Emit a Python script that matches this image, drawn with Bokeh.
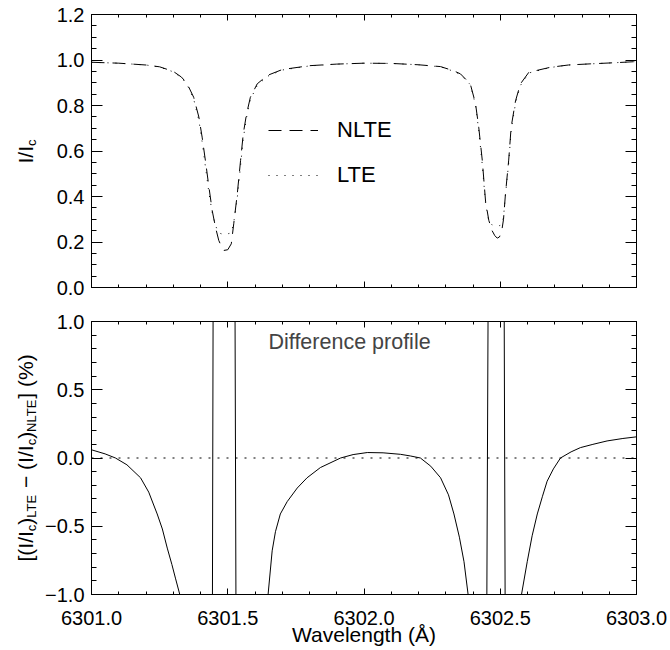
import math
from bokeh.plotting import figure
from bokeh.layouts import column, row
from bokeh.models import (Range1d, LinearAxis, SingleIntervalTicker, CustomJSTickFormatter,
                          Label, Legend, LegendItem, Span)
from bokeh.embed import file_html
from bokeh.resources import INLINE

# ---------------- data ----------------
wavelength = [
    6301.000, 6301.100, 6301.200, 6301.250, 6301.300, 6301.330, 6301.350, 6301.375,
    6301.394, 6301.406, 6301.418, 6301.431, 6301.443, 6301.455, 6301.467, 6301.477,
    6301.486, 6301.500, 6301.513, 6301.522, 6301.535, 6301.547, 6301.557, 6301.569,
    6301.583, 6301.608, 6301.645, 6301.700, 6301.800, 6301.900, 6302.000, 6302.100,
    6302.200, 6302.281, 6302.330, 6302.354, 6302.390, 6302.409, 6302.421, 6302.434,
    6302.446, 6302.458, 6302.470, 6302.480, 6302.489, 6302.497, 6302.505, 6302.512,
    6302.519, 6302.531, 6302.540, 6302.556, 6302.574, 6302.605, 6302.684, 6302.750,
    6302.830, 6302.920, 6303.000]
nlte = [
    0.990, 0.986, 0.978, 0.970, 0.950, 0.925, 0.898, 0.836,
    0.749, 0.661, 0.558, 0.441, 0.338, 0.265, 0.207, 0.180,
    0.163, 0.166, 0.192, 0.280, 0.412, 0.558, 0.676, 0.763,
    0.836, 0.895, 0.932, 0.958, 0.975, 0.982, 0.986, 0.985,
    0.979, 0.971, 0.952, 0.939, 0.895, 0.810, 0.705, 0.560,
    0.380, 0.295, 0.250, 0.228, 0.217, 0.222, 0.245, 0.300,
    0.410, 0.560, 0.705, 0.820, 0.895, 0.946, 0.968, 0.978,
    0.983, 0.988, 0.993]
lte = [
    0.990, 0.986, 0.978, 0.969, 0.948, 0.922, 0.894, 0.828,
    0.735, 0.640, 0.532, 0.415, 0.330, 0.272, 0.240, 0.236,
    0.235, 0.236, 0.240, 0.286, 0.395, 0.535, 0.655, 0.748,
    0.826, 0.888, 0.928, 0.956, 0.974, 0.982, 0.986, 0.985,
    0.979, 0.970, 0.950, 0.936, 0.892, 0.803, 0.692, 0.540,
    0.370, 0.290, 0.275, 0.272, 0.272, 0.272, 0.275, 0.310,
    0.405, 0.548, 0.690, 0.810, 0.888, 0.943, 0.967, 0.978,
    0.983, 0.988, 0.993]

diff_wavelength = [
    6301.000, 6301.050, 6301.088, 6301.130, 6301.180, 6301.210, 6301.241, 6301.260,
    6301.278, 6301.295, 6301.308, 6301.324, 6301.350, 6301.380, 6301.410, 6301.438,
    6301.452, 6301.470, 6301.490, 6301.510, 6301.522, 6301.538, 6301.560, 6301.600,
    6301.630, 6301.648, 6301.663, 6301.675, 6301.693, 6301.718, 6301.755, 6301.791,
    6301.840, 6301.914, 6301.960, 6302.012, 6302.070, 6302.134, 6302.170, 6302.207,
    6302.245, 6302.281, 6302.310, 6302.330, 6302.350, 6302.367, 6302.382, 6302.400,
    6302.420, 6302.440, 6302.466, 6302.480, 6302.495, 6302.508, 6302.526, 6302.550,
    6302.570, 6302.578, 6302.599, 6302.617, 6302.636, 6302.655, 6302.672, 6302.695,
    6302.721, 6302.760, 6302.794, 6302.840, 6302.892, 6302.950, 6303.000]
diff_percent = [
    0.060, 0.030, 0.000, -0.050, -0.145, -0.250, -0.410, -0.520,
    -0.660, -0.780, -0.880, -1.000, -1.500, -2.600, -4.000, -6.000,
    6.000, 7.000, 7.200, 5.500, 4.000, -6.000, -4.500, -2.500,
    -1.400, -1.000, -0.680, -0.540, -0.410, -0.320, -0.220, -0.145,
    -0.070, 0.000, 0.025, 0.040, 0.038, 0.027, 0.015, 0.000,
    -0.060, -0.145, -0.270, -0.410, -0.580, -0.760, -1.000, -1.600,
    -3.000, -6.000, 6.000, 5.500, 5.000, 5.000, -6.000, -4.000,
    -1.800, -1.000, -0.760, -0.570, -0.410, -0.280, -0.170, -0.080,
    0.000, 0.045, 0.076, 0.100, 0.125, 0.143, 0.155]
zero_level = 0.0

x_limits = (6301.0, 6303.0)
top_y_limits = (0.0, 1.2)
bot_y_limits = (-1.0, 1.0)
legend_labels = ["NLTE", "LTE"]
panel_text = "Difference profile"
x_title = "Wavelength (\u00c5)"
top_y_title = [("I/I", False), ("c", True)]
bot_y_title = [("[(I/I", False), ("c", True), (")", False), ("LTE", True),
               (" \u2212 (I/I", False), ("c", True), (")", False), ("NLTE", True),
               ("] (%)", False)]

# ---------------- style / layout ----------------
FONT = "Liberation Sans"
TICK_FS = "20px"
FRAME_W, FRAME_H = 545, 273
TITLE_W = 39                      # strip on the left holding the y titles
LEFT, RIGHT = 91 - TITLE_W, 32
W = LEFT + FRAME_W + RIGHT
H1 = 14 + FRAME_H + 17
H2 = 17 + FRAME_H + 56
H_ALL = H1 + H2
MID = 0.37                        # label anchor sits this many em above the baseline
EPS = 1e-9                        # keeps the end tick inside the range

# approximate Helvetica/Arial advance widths (em) for composing sub-scripted labels
ADV = {'[': .278, '(': .333, ')': .333, ']': .278, 'I': .278, '/': .278, 'c': .5,
       'L': .556, 'T': .611, 'E': .667, 'N': .722, ' ': .278, '\u2212': .584, '%': .889}


def tw(s, size):
    return sum(ADV[ch] for ch in s) * size


def rotated_label(fig, pieces, base_x, y0, F, S, drop):
    pos = y0
    for text, sub in pieces:
        size = S if sub else F
        while text.startswith(' '):
            pos += tw(' ', size)
            text = text[1:]
        bx = base_x + (drop if sub else 0)
        fig.add_layout(Label(x=bx - MID * size, y=pos, x_units='screen', y_units='screen',
                             text=text, angle=math.pi / 2, text_font=FONT,
                             text_font_size=f"{size}px", text_color='black',
                             text_align='left', text_baseline='alphabetic'))
        pos += tw(text, size)


def style_axis(ax, major_in, minor_in, show=True, fmt=None, standoff=8):
    ax.major_tick_in = major_in
    ax.major_tick_out = 0
    ax.minor_tick_in = minor_in
    ax.minor_tick_out = 0
    ax.axis_line_color = 'black'
    ax.major_tick_line_color = 'black'
    ax.minor_tick_line_color = 'black'
    ax.axis_label_standoff = 0
    if show:
        ax.formatter = CustomJSTickFormatter(code=fmt)
        ax.major_label_text_font = FONT
        ax.major_label_text_font_size = TICK_FS
        ax.major_label_text_color = 'black'
        ax.major_label_standoff = standoff
    else:
        ax.formatter = CustomJSTickFormatter(code="return ''")
        ax.major_label_text_font_size = '0px'
        ax.major_label_standoff = 0


def make_fig(height, ylim, top, bottom, y_interval, y_minor, yfmt, x_labels):
    p = figure(width=W, height=height, x_range=Range1d(x_limits[0], x_limits[1] + EPS),
               y_range=Range1d(ylim[0], ylim[1] + EPS),
               output_backend="svg", toolbar_location=None,
               x_axis_type=None, y_axis_type=None,
               min_border_left=LEFT, min_border_right=RIGHT,
               min_border_top=top, min_border_bottom=bottom)
    p.outline_line_color = None
    p.background_fill_color = 'white'
    p.border_fill_color = 'white'
    xaxes = {}
    for side in ("below", "above"):
        ax = LinearAxis(ticker=SingleIntervalTicker(interval=0.5, num_minor_ticks=5))
        show = (side == "below" and x_labels)
        style_axis(ax, 6, 3, show, "return tick.toFixed(1)", standoff=16)
        p.add_layout(ax, side)
        xaxes[side] = ax
    for side in ("left", "right"):
        ax = LinearAxis(ticker=SingleIntervalTicker(interval=y_interval, num_minor_ticks=y_minor))
        show = (side == "left")
        style_axis(ax, 11, 5, show, yfmt, standoff=7)
        p.add_layout(ax, side)
    return p, xaxes["below"]


# ---------------- top panel ----------------
p1, _ = make_fig(H1, top_y_limits, 14, 17, 0.2, 4, "return tick.toFixed(1);", False)
r_nlte = p1.line(wavelength, nlte, line_color='black', line_width=1, line_dash="13 8")
r_lte = p1.line(wavelength, lte, line_color='black', line_width=1, line_dash="1 7")
legend = Legend(items=[LegendItem(label=legend_labels[0], renderers=[r_nlte]),
                       LegendItem(label=legend_labels[1], renderers=[r_lte])],
                location=(177, 99), glyph_width=50, glyph_height=26, label_height=26,
                spacing=19, label_standoff=19, padding=0, margin=0,
                border_line_color=None, background_fill_alpha=0,
                label_text_font=FONT, label_text_font_size="22px", label_text_color='black')
p1.add_layout(legend)

# ---------------- bottom panel ----------------
p2, xax = make_fig(H2, bot_y_limits, 17, 56, 0.5, 5,
                   "return tick.toFixed(1).replace('-', '\u2212');", True)
xax.axis_label = x_title
xax.axis_label_text_font = FONT
xax.axis_label_text_font_size = "21px"
xax.axis_label_text_font_style = "normal"
xax.axis_label_text_color = 'black'
xax.axis_label_standoff = -5
p2.add_layout(Span(location=zero_level, dimension='width', line_color='black',
                   line_width=1, line_dash="2 7"))
p2.line(diff_wavelength, diff_percent, line_color='black', line_width=1)
p2.add_layout(Label(x=177, y=FRAME_H - 28 + MID * 21.5, x_units='screen', y_units='screen',
                    text=panel_text, text_font=FONT, text_font_size="21.5px",
                    text_align='left', text_baseline='alphabetic'))

# ---------------- left strip with the rotated y titles ----------------
lf = figure(width=TITLE_W, height=H_ALL, x_range=Range1d(0, 1), y_range=Range1d(0, 1),
            output_backend="svg", toolbar_location=None, x_axis_type=None, y_axis_type=None,
            min_border_left=0, min_border_right=0, min_border_top=0, min_border_bottom=0)
lf.outline_line_color = None
lf.background_fill_color = 'white'
lf.border_fill_color = 'white'
rotated_label(lf, top_y_title, 32.5, H_ALL - 163, 21, 13, 3.5)
rotated_label(lf, bot_y_title, 32.5, H_ALL - 561, 21, 13, 3.5)

layout = row(lf, column(p1, p2))
open("out.html", "w").write(file_html(layout, INLINE))
